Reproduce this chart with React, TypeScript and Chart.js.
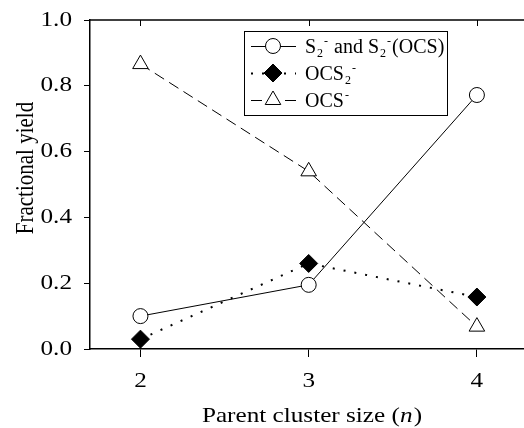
import React, { useEffect, useRef } from "react";
import { Chart, registerables } from "chart.js";

Chart.register(...registerables);

// ---- data ----
const clusterSizes = [2, 3, 4];
const s2Yield = [0.1, 0.195, 0.772];
const ocs2Yield = [0.03, 0.26, 0.158];
const ocsYield = [0.866, 0.54, 0.068];
const xTickValues = [2, 3, 4];
const yTickValues = [0, 0.2, 0.4, 0.6, 0.8, 1.0];
const xTickLabels = ["2", "3", "4"];
const yTickLabels = ["0.0", "0.2", "0.4", "0.6", "0.8", "1.0"];
const xTitleMain = "Parent cluster size (";
const xTitleItalic = "n";
const xTitleEnd = ")";
const yTitle = "Fractional yield";

type Seg = { t: string; sub?: boolean; sup?: boolean };
const legendS2: Seg[] = [
  { t: "S" }, { t: "2", sub: true }, { t: "-", sup: true },
  { t: " and S" }, { t: "2", sub: true }, { t: "-", sup: true }, { t: "(OCS)" },
];
const legendOCS2: Seg[] = [{ t: "OCS" }, { t: "2", sub: true }, { t: "-", sup: true }];
const legendOCS: Seg[] = [{ t: "OCS" }, { t: "-", sup: true }];

const FONT = "'Liberation Serif', 'Times New Roman', serif";
const STRETCH = 1.2;

function drawSegs(ctx: CanvasRenderingContext2D, segs: Seg[], x: number, y: number, size: number) {
  let cx = x;
  for (const s of segs) {
    if (s.sub) {
      ctx.font = `${Math.round(size * 0.62)}px ${FONT}`;
      ctx.fillText(s.t, cx + 1, y + size * 0.22);
      cx += 1 + ctx.measureText(s.t).width;
      continue;
    }
    if (s.sup) {
      ctx.font = `${Math.round(size * 0.62)}px ${FONT}`;
      ctx.fillText(s.t, cx + 1, y - size * 0.42);
      cx += ctx.measureText(s.t).width + 2;
      continue;
    }
    ctx.font = `${size}px ${FONT}`;
    ctx.fillText(s.t, cx, y);
    cx += ctx.measureText(s.t).width;
  }
}

function drawMarker(ctx: CanvasRenderingContext2D, kind: string, x: number, y: number) {
  ctx.save();
  ctx.setLineDash([]);
  ctx.lineWidth = 1;
  ctx.strokeStyle = "#000";
  ctx.beginPath();
  if (kind === "circle") {
    ctx.arc(x, y, 7.5, 0, Math.PI * 2);
    ctx.fillStyle = "#fff";
  } else if (kind === "diamond") {
    const r = 9;
    ctx.moveTo(x, y - r); ctx.lineTo(x + r, y); ctx.lineTo(x, y + r); ctx.lineTo(x - r, y); ctx.closePath();
    ctx.fillStyle = "#000";
  } else {
    const r = 9;
    ctx.moveTo(x, y - r);
    ctx.lineTo(x + r * Math.cos(Math.PI / 6), y + r / 2);
    ctx.lineTo(x - r * Math.cos(Math.PI / 6), y + r / 2);
    ctx.closePath();
    ctx.fillStyle = "#fff";
  }
  ctx.fill();
  ctx.stroke();
  ctx.restore();
}

// draw horizontally stretched text (the reference figure is stretched sideways)
function stretchedText(ctx: CanvasRenderingContext2D, text: string, x: number, y: number, align: CanvasTextAlign, font: string) {
  ctx.save();
  ctx.font = font;
  ctx.textAlign = align;
  ctx.textBaseline = "middle";
  ctx.translate(x, y);
  ctx.scale(STRETCH, 1);
  ctx.fillText(text, 0, 0);
  ctx.restore();
}

const framePlugin = {
  id: "frameAndLegend",
  afterDraw(chart: any) {
    const ctx: CanvasRenderingContext2D = chart.ctx;
    const { left, right, top, bottom } = chart.chartArea;
    const xs = chart.scales.x;
    const ys = chart.scales.y;
    ctx.save();
    ctx.fillStyle = "#000";
    // tick labels
    const tickFont = `21px ${FONT}`;
    xTickValues.forEach((v, i) => {
      stretchedText(ctx, xTickLabels[i], xs.getPixelForValue(v), bottom + 32, "center", tickFont);
    });
    yTickValues.forEach((v, i) => {
      stretchedText(ctx, yTickLabels[i], left - 18, ys.getPixelForValue(v), "right", tickFont);
    });
    // x title with italic n
    {
      const size = 21;
      ctx.save();
      ctx.textBaseline = "middle";
      ctx.textAlign = "left";
      ctx.font = `${size}px ${FONT}`;
      const w1 = ctx.measureText(xTitleMain).width;
      ctx.font = `italic ${size}px ${FONT}`;
      const w2 = ctx.measureText(xTitleItalic).width;
      ctx.font = `${size}px ${FONT}`;
      const w3 = ctx.measureText(xTitleEnd).width;
      const total = (w1 + w2 + w3 + 1) * STRETCH;
      const cx = (left + right) / 2 + 5;
      ctx.translate(cx - total / 2, 416);
      ctx.scale(STRETCH, 1);
      ctx.fillText(xTitleMain, 0, 0);
      ctx.font = `italic ${size}px ${FONT}`;
      ctx.fillText(xTitleItalic, w1, 0);
      ctx.font = `${size}px ${FONT}`;
      ctx.fillText(xTitleEnd, w1 + w2 + 1, 0);
      ctx.restore();
    }
    // y title
    {
      ctx.save();
      ctx.font = `21px ${FONT}`;
      ctx.textAlign = "center";
      ctx.textBaseline = "middle";
      ctx.translate(26, 168);
      ctx.scale(STRETCH, 1);
      ctx.rotate(-Math.PI / 2);
      ctx.fillText(yTitle, 0, 0);
      ctx.restore();
    }
    // top border with inward ticks
    ctx.strokeStyle = "#000";
    ctx.lineWidth = 1.5;
    ctx.beginPath();
    ctx.moveTo(left, top);
    ctx.lineTo(right, top);
    ctx.stroke();
    ctx.lineWidth = 1;
    for (const v of xTickValues) {
      const px = Math.round(xs.getPixelForValue(v)) + 0.5;
      ctx.beginPath();
      ctx.moveTo(px, top);
      ctx.lineTo(px, top + 6);
      ctx.stroke();
    }
    // legend
    const bx = 244, by = 31, bw = 203, bh = 84;
    ctx.fillStyle = "#fff";
    ctx.fillRect(bx, by, bw, bh);
    ctx.lineWidth = 1;
    ctx.strokeRect(bx + 0.5, by + 0.5, bw, bh);
    const rows = [
      { segs: legendS2, dash: [] as number[], lw: 1, marker: "circle" },
      { segs: legendOCS2, dash: [2, 9], lw: 2, marker: "diamond" },
      { segs: legendOCS, dash: [11, 6], lw: 1, marker: "triangle" },
    ];
    rows.forEach((r, i) => {
      const cy = 46 + i * 27;
      ctx.save();
      ctx.strokeStyle = "#000";
      ctx.lineWidth = r.lw;
      ctx.setLineDash(r.dash);
      ctx.beginPath();
      ctx.moveTo(251, cy + 0.5);
      ctx.lineTo(296, cy + 0.5);
      ctx.stroke();
      ctx.restore();
      drawMarker(ctx, r.marker, 273, cy);
      ctx.fillStyle = "#000";
      ctx.textBaseline = "alphabetic";
      ctx.textAlign = "left";
      drawSegs(ctx, r.segs, 305, cy + 7, 20);
    });
    ctx.restore();
  },
};

export default function App() {
  const ref = useRef<HTMLCanvasElement | null>(null);
  useEffect(() => {
    if (!ref.current) return;
    Chart.defaults.font.family = FONT;
    Chart.defaults.color = "#000";
    const toPts = (ys: number[]) => clusterSizes.map((x, i) => ({ x, y: ys[i] }));
    const chart = new Chart(ref.current, {
      type: "line",
      data: {
        datasets: [
          {
            label: "S2- and S2-(OCS)",
            data: toPts(s2Yield),
            borderColor: "#000",
            borderWidth: 1,
            pointStyle: "circle",
            pointRadius: 7.5,
            pointBackgroundColor: "#fff",
            pointBorderColor: "#000",
            pointBorderWidth: 1,
          },
          {
            label: "OCS2-",
            data: toPts(ocs2Yield),
            borderColor: "#000",
            borderWidth: 2,
            borderDash: [2, 9],
            pointStyle: "rectRot",
            pointRadius: 9,
            pointBackgroundColor: "#000",
            pointBorderColor: "#000",
            pointBorderWidth: 1,
          },
          {
            label: "OCS-",
            data: toPts(ocsYield),
            borderColor: "#000",
            borderWidth: 1,
            borderDash: [11, 6],
            pointStyle: "triangle",
            pointRadius: 9,
            pointBackgroundColor: "#fff",
            pointBorderColor: "#000",
            pointBorderWidth: 1,
          },
        ],
      },
      options: {
        animation: false,
        responsive: false,
        devicePixelRatio: 1,
        layout: { autoPadding: false, padding: { top: 20, left: 0, right: 0, bottom: 0 } },
        plugins: { legend: { display: false }, tooltip: { enabled: false } },
        scales: {
          x: {
            type: "linear",
            min: 1.7,
            max: 4.28,
            afterBuildTicks: (s: any) => { s.ticks = xTickValues.map((v) => ({ value: v })); },
            afterFit: (s: any) => { s.height = 79; s.paddingLeft = 0; s.paddingRight = 0; },
            ticks: { display: false, padding: 0 },
            grid: { display: true, drawOnChartArea: false, drawTicks: true, tickLength: 8, color: "#000", lineWidth: 1 },
            border: { display: true, color: "#000", width: 1.5 },
            title: { display: false },
          },
          y: {
            type: "linear",
            min: 0,
            max: 1,
            afterBuildTicks: (s: any) => { s.ticks = yTickValues.map((v) => ({ value: v })); },
            afterFit: (s: any) => { s.width = 90; s.paddingTop = 0; s.paddingBottom = 0; },
            ticks: { display: false, padding: 0 },
            grid: { display: true, drawOnChartArea: false, drawTicks: true, tickLength: 6, color: "#000", lineWidth: 1 },
            border: { display: true, color: "#000", width: 1.5 },
            title: { display: false },
          },
        },
      },
      plugins: [framePlugin],
    });
    return () => chart.destroy();
  }, []);
  return (
    <div style={{ position: "absolute", left: 0, top: 0, width: 524, height: 428, background: "#fff" }}>
      <canvas ref={ref} width={524} height={428} />
    </div>
  );
}
